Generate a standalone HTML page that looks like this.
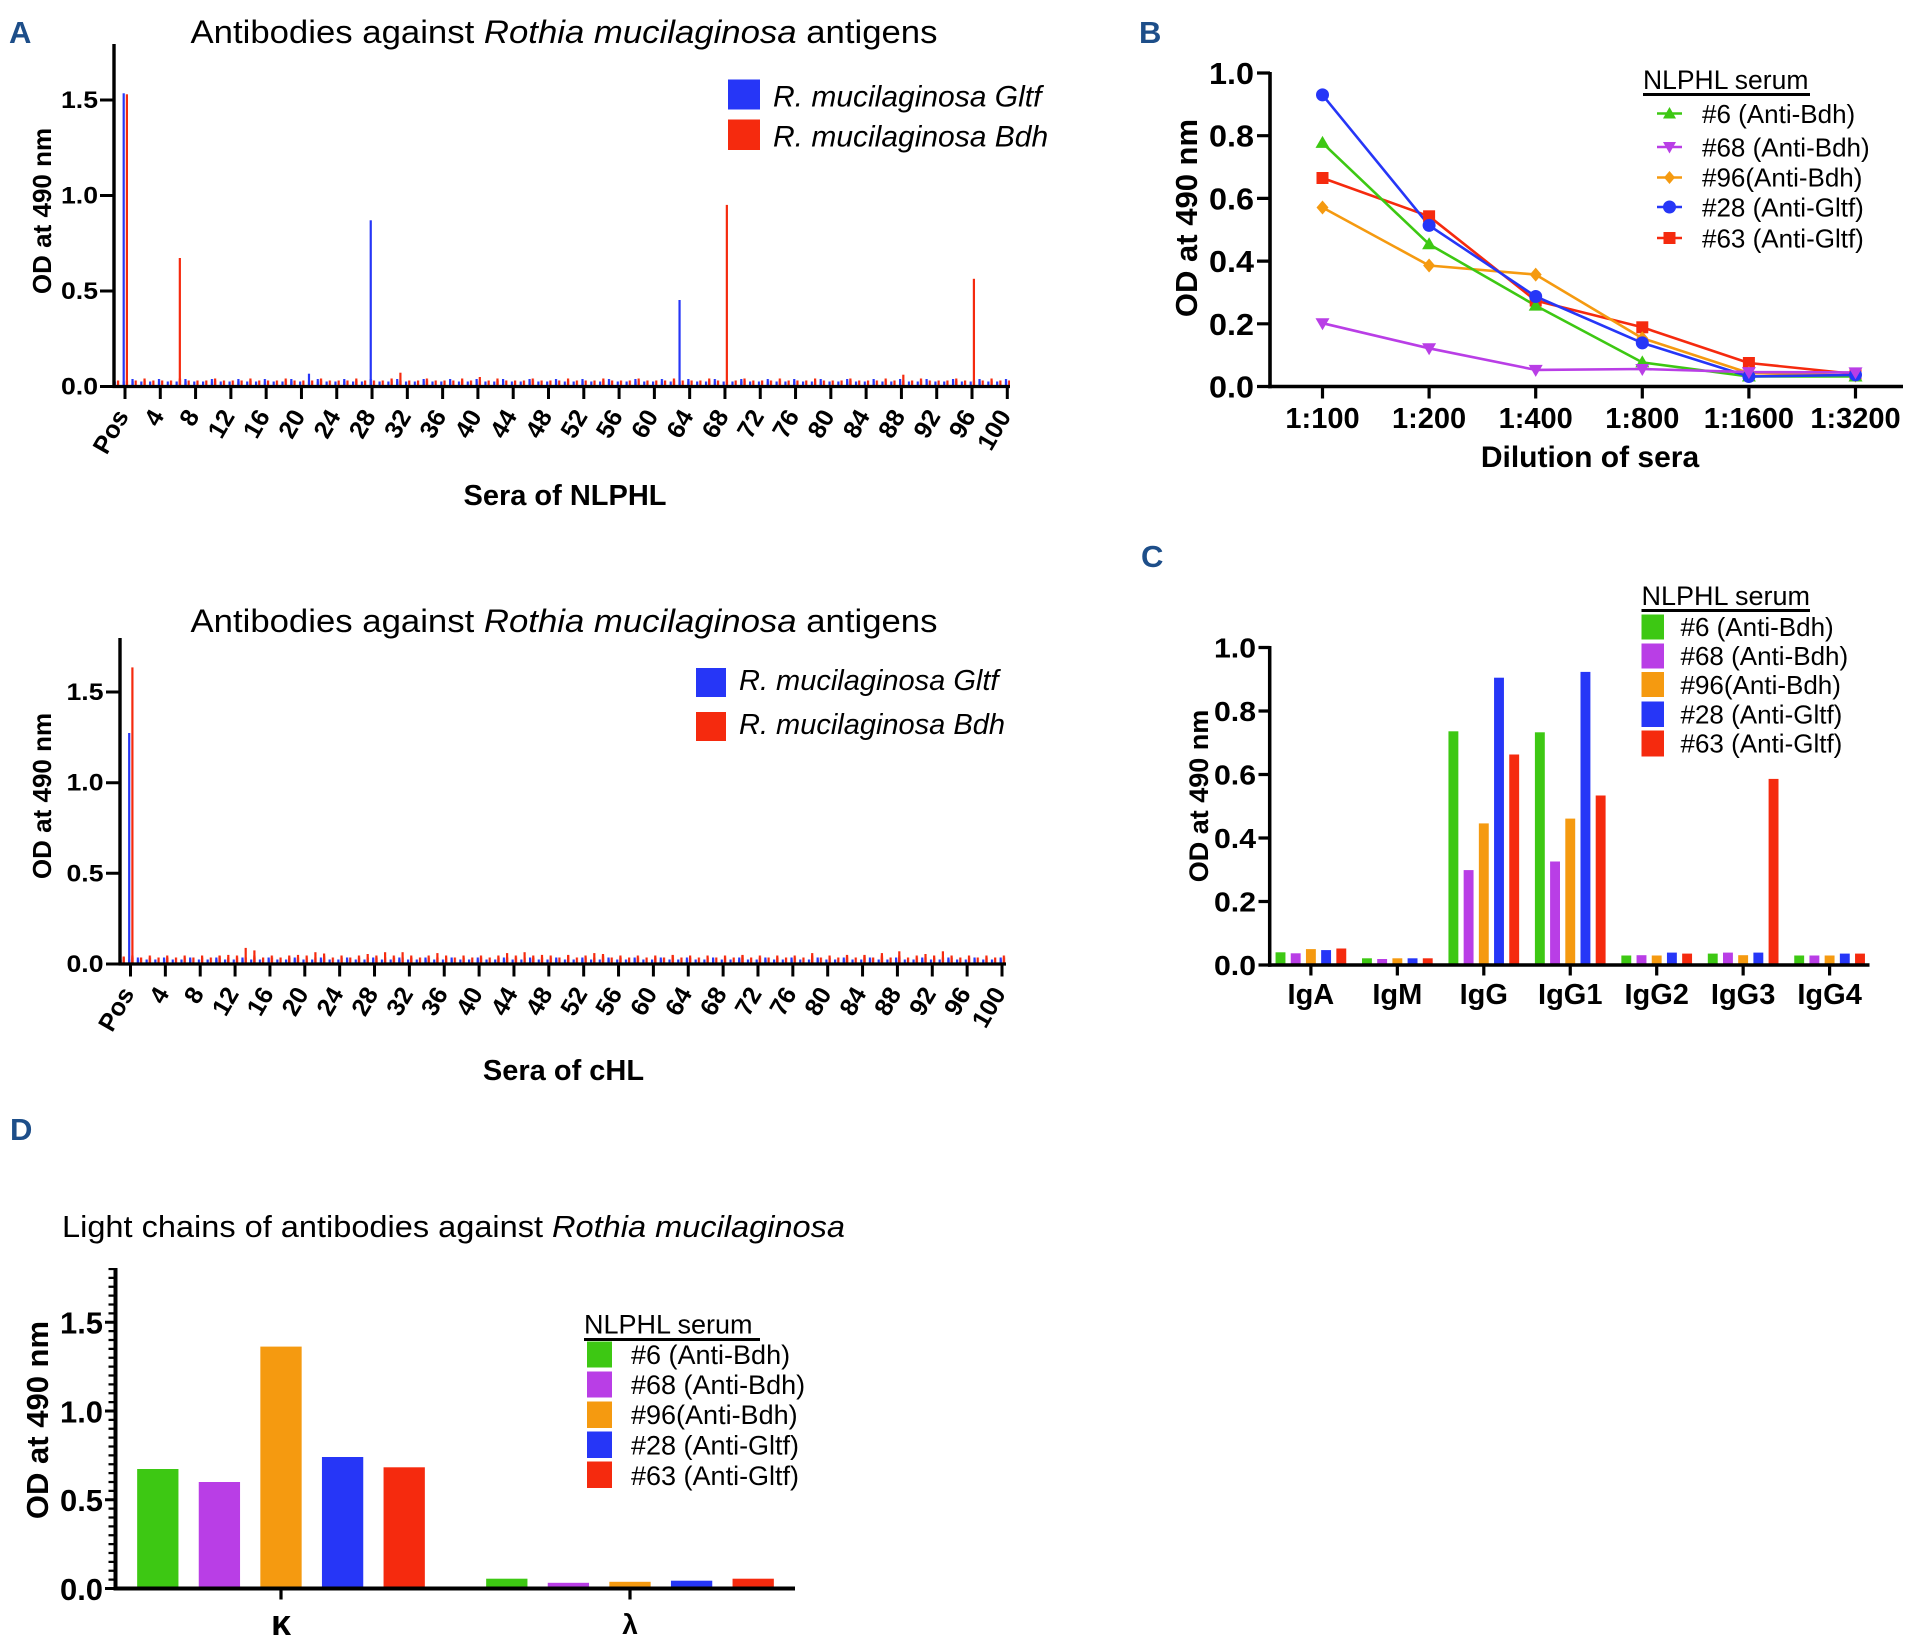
<!DOCTYPE html>
<html><head><meta charset="utf-8"><style>html,body{margin:0;padding:0;background:#fff;}svg{display:block}</style></head><body>
<svg width="1918" height="1648" viewBox="0 0 1918 1648" font-family="'Liberation Sans', Arial, sans-serif">
<defs>
<pattern id="pb1" patternUnits="userSpaceOnUse" x="122.6" y="0" width="8.823" height="1648"><rect x="0" y="0" width="2.2" height="1648" fill="#2636f7"/></pattern>
<pattern id="pr1" patternUnits="userSpaceOnUse" x="125.8" y="0" width="8.823" height="1648"><rect x="0" y="0" width="2.2" height="1648" fill="#f52a0e"/></pattern>
<pattern id="pb1b" patternUnits="userSpaceOnUse" x="131.42" y="0" width="26.469" height="1648"><rect x="0" y="0" width="2.2" height="1648" fill="#2636f7"/></pattern>
<pattern id="pr1b" patternUnits="userSpaceOnUse" x="143.45" y="0" width="35.292" height="1648"><rect x="0" y="0" width="2.2" height="1648" fill="#f52a0e"/></pattern>
<pattern id="pb2" patternUnits="userSpaceOnUse" x="128.1" y="0" width="8.715" height="1648"><rect x="0" y="0" width="2.2" height="1648" fill="#2636f7"/></pattern>
<pattern id="pr2" patternUnits="userSpaceOnUse" x="131.3" y="0" width="8.715" height="1648"><rect x="0" y="0" width="2.2" height="1648" fill="#f52a0e"/></pattern>
<pattern id="pb2b" patternUnits="userSpaceOnUse" x="136.8" y="0" width="26.145" height="1648"><rect x="0" y="0" width="2.2" height="1648" fill="#2636f7"/></pattern>
<pattern id="pr2b" patternUnits="userSpaceOnUse" x="148.7" y="0" width="17.43" height="1648"><rect x="0" y="0" width="2.2" height="1648" fill="#f52a0e"/></pattern>
</defs>

<!-- Panel letters -->
<g font-size="31" font-weight="bold" fill="#1d4e89">
<text x="9" y="43">A</text>
<text x="1139" y="43">B</text>
<text x="1141" y="567">C</text>
<text x="10" y="1140">D</text>
</g>

<!-- ================= A top ================= -->
<text x="564" y="43" text-anchor="middle" font-size="32" textLength="747" lengthAdjust="spacingAndGlyphs">Antibodies against <tspan font-style="italic">Rothia mucilaginosa</tspan> antigens</text>

<rect x="114" y="381.5" width="896" height="5" fill="url(#pb1)"/>
<rect x="114" y="379" width="896" height="7.5" fill="url(#pb1b)"/>
<rect x="114" y="380.5" width="896" height="6" fill="url(#pr1)"/>
<rect x="114" y="378.5" width="896" height="8" fill="url(#pr1b)"/>
<rect x="122.6" y="93.3" width="2.2" height="293.2" fill="#2636f7"/>
<rect x="125.8" y="94.3" width="2.2" height="292.2" fill="#f52a0e"/>
<rect x="178.74" y="258" width="2.2" height="128.5" fill="#f52a0e"/>
<rect x="369.64" y="220.3" width="2.2" height="166.2" fill="#2636f7"/>
<rect x="678.45" y="300" width="2.2" height="86.5" fill="#2636f7"/>
<rect x="725.76" y="204.9" width="2.2" height="181.6" fill="#f52a0e"/>
<rect x="972.81" y="278.8" width="2.2" height="107.7" fill="#f52a0e"/>
<rect x="399.31" y="372.7" width="2.2" height="13.8" fill="#f52a0e"/>
<rect x="902.22" y="374.7" width="2.2" height="11.8" fill="#f52a0e"/>
<rect x="307.88" y="373.7" width="2.2" height="12.8" fill="#2636f7"/>
<rect x="478.72" y="377" width="2.2" height="9.5" fill="#f52a0e"/>

<g stroke="#000" fill="none">
<line x1="114" y1="44" x2="114" y2="388" stroke-width="3.4"/>
<line x1="112.5" y1="386.5" x2="1010" y2="386.5" stroke-width="3.2"/>
<path stroke-width="3" d="M100,100H114M100,195.5H114M100,291H114M100,386.5H114"/>
<path stroke-width="3" d="M125,386.5v12.5M160.29,386.5v12.5M195.58,386.5v12.5M230.88,386.5v12.5M266.17,386.5v12.5M301.46,386.5v12.5M336.75,386.5v12.5M372.04,386.5v12.5M407.34,386.5v12.5M442.63,386.5v12.5M477.92,386.5v12.5M513.21,386.5v12.5M548.5,386.5v12.5M583.8,386.5v12.5M619.09,386.5v12.5M654.38,386.5v12.5M689.67,386.5v12.5M724.96,386.5v12.5M760.26,386.5v12.5M795.55,386.5v12.5M830.84,386.5v12.5M866.13,386.5v12.5M901.42,386.5v12.5M936.72,386.5v12.5M972.01,386.5v12.5M1007.3,386.5v12.5"/>
</g>
<g font-size="24" font-weight="bold" text-anchor="end">
<text x="98" y="108" textLength="37" lengthAdjust="spacingAndGlyphs">1.5</text>
<text x="98" y="203.5" textLength="37" lengthAdjust="spacingAndGlyphs">1.0</text>
<text x="98" y="299" textLength="37" lengthAdjust="spacingAndGlyphs">0.5</text>
<text x="98" y="394.5" textLength="37" lengthAdjust="spacingAndGlyphs">0.0</text>
</g>
<text transform="translate(51,211) rotate(-90)" text-anchor="middle" font-size="26" font-weight="bold">OD at 490 nm</text>
<g font-size="25" font-weight="bold" text-anchor="end">
<text transform="translate(129.5,416) rotate(-60)">Pos</text>
<text transform="translate(164.8,416) rotate(-60)">4</text>
<text transform="translate(200.1,416) rotate(-60)">8</text>
<text transform="translate(235.4,416) rotate(-60)">12</text>
<text transform="translate(270.7,416) rotate(-60)">16</text>
<text transform="translate(306,416) rotate(-60)">20</text>
<text transform="translate(341.3,416) rotate(-60)">24</text>
<text transform="translate(376.5,416) rotate(-60)">28</text>
<text transform="translate(411.8,416) rotate(-60)">32</text>
<text transform="translate(447.1,416) rotate(-60)">36</text>
<text transform="translate(482.4,416) rotate(-60)">40</text>
<text transform="translate(517.7,416) rotate(-60)">44</text>
<text transform="translate(553,416) rotate(-60)">48</text>
<text transform="translate(588.3,416) rotate(-60)">52</text>
<text transform="translate(623.6,416) rotate(-60)">56</text>
<text transform="translate(658.9,416) rotate(-60)">60</text>
<text transform="translate(694.2,416) rotate(-60)">64</text>
<text transform="translate(729.5,416) rotate(-60)">68</text>
<text transform="translate(764.8,416) rotate(-60)">72</text>
<text transform="translate(800,416) rotate(-60)">76</text>
<text transform="translate(835.3,416) rotate(-60)">80</text>
<text transform="translate(870.6,416) rotate(-60)">84</text>
<text transform="translate(905.9,416) rotate(-60)">88</text>
<text transform="translate(941.2,416) rotate(-60)">92</text>
<text transform="translate(976.5,416) rotate(-60)">96</text>
<text transform="translate(1011.8,416) rotate(-60)">100</text>
</g>
<text x="565" y="505" text-anchor="middle" font-size="29" font-weight="bold">Sera of NLPHL</text>
<rect x="728" y="79.5" width="32" height="30" fill="#2636f7"/>
<rect x="728" y="119.5" width="32" height="30.5" fill="#f52a0e"/>
<g font-size="30" font-style="italic">
<text x="773" y="106.7">R. mucilaginosa Gltf</text>
<text x="773" y="146.7">R. mucilaginosa Bdh</text>
</g>

<!-- ================= A bottom (cHL) ================= -->
<text x="564" y="632" text-anchor="middle" font-size="32" textLength="747" lengthAdjust="spacingAndGlyphs">Antibodies against <tspan font-style="italic">Rothia mucilaginosa</tspan> antigens</text>
<rect x="121" y="959.5" width="885" height="4.5" fill="url(#pb2)"/>
<rect x="121" y="957.5" width="885" height="6.5" fill="url(#pb2b)"/>
<rect x="121" y="957.5" width="885" height="6.5" fill="url(#pr2)"/>
<rect x="121" y="955.5" width="885" height="8.5" fill="url(#pr2b)"/>
<rect x="128.1" y="733" width="2.2" height="231" fill="#2636f7"/>
<rect x="131.3" y="667.4" width="2.2" height="296.6" fill="#f52a0e"/>
<g fill="#f52a0e">
<rect x="244.6" y="947.9" width="2.2" height="16.1"/>
<rect x="253.3" y="950.4" width="2.2" height="13.6"/>
<rect x="314.3" y="952.2" width="2.2" height="11.8"/>
<rect x="323" y="953.5" width="2.2" height="10.5"/>
<rect x="366.6" y="954" width="2.2" height="10"/>
<rect x="384" y="952.2" width="2.2" height="11.8"/>
<rect x="401.5" y="952.2" width="2.2" height="11.8"/>
<rect x="436.3" y="953.1" width="2.2" height="10.9"/>
<rect x="506" y="953.1" width="2.2" height="10.9"/>
<rect x="523.5" y="952.2" width="2.2" height="11.8"/>
<rect x="540.9" y="954.9" width="2.2" height="9.1"/>
<rect x="593.2" y="953.1" width="2.2" height="10.9"/>
<rect x="601.9" y="954" width="2.2" height="10"/>
<rect x="671.6" y="954.9" width="2.2" height="9.1"/>
<rect x="741.4" y="954.9" width="2.2" height="9.1"/>
<rect x="811.1" y="953.1" width="2.2" height="10.9"/>
<rect x="880.8" y="953.1" width="2.2" height="10.9"/>
<rect x="898.2" y="951.3" width="2.2" height="12.7"/>
<rect x="924.4" y="954" width="2.2" height="10"/>
<rect x="941.8" y="951.3" width="2.2" height="12.7"/>
<rect x="227.2" y="954.9" width="2.2" height="9.1"/>
<rect x="218.5" y="955.8" width="2.2" height="8.2"/>
<rect x="296.9" y="954.9" width="2.2" height="9.1"/>
<rect x="567.1" y="954.9" width="2.2" height="9.1"/>
<rect x="845.9" y="954.9" width="2.2" height="9.1"/>
<rect x="863.4" y="954.9" width="2.2" height="9.1"/>
<rect x="122.6" y="956.5" width="2.2" height="7.5"/>
</g>
<g stroke="#000" fill="none">
<line x1="120" y1="638" x2="120" y2="965.5" stroke-width="3.4"/>
<line x1="118.5" y1="964" x2="1006" y2="964" stroke-width="3.2"/>
<path stroke-width="3" d="M106,692H120M106,782.7H120M106,873.3H120M106,964H120"/>
<path stroke-width="3" d="M130.5,964v12.5M165.36,964v12.5M200.22,964v12.5M235.08,964v12.5M269.94,964v12.5M304.8,964v12.5M339.66,964v12.5M374.52,964v12.5M409.38,964v12.5M444.24,964v12.5M479.1,964v12.5M513.96,964v12.5M548.82,964v12.5M583.68,964v12.5M618.54,964v12.5M653.4,964v12.5M688.26,964v12.5M723.12,964v12.5M757.98,964v12.5M792.84,964v12.5M827.7,964v12.5M862.56,964v12.5M897.42,964v12.5M932.28,964v12.5M967.14,964v12.5M1002,964v12.5"/>
</g>
<g font-size="24" font-weight="bold" text-anchor="end">
<text x="103.5" y="700" textLength="37" lengthAdjust="spacingAndGlyphs">1.5</text>
<text x="103.5" y="790.7" textLength="37" lengthAdjust="spacingAndGlyphs">1.0</text>
<text x="103.5" y="881.3" textLength="37" lengthAdjust="spacingAndGlyphs">0.5</text>
<text x="103.5" y="972" textLength="37" lengthAdjust="spacingAndGlyphs">0.0</text>
</g>
<text transform="translate(51,796) rotate(-90)" text-anchor="middle" font-size="26" font-weight="bold">OD at 490 nm</text>
<g font-size="25" font-weight="bold" text-anchor="end">
<text transform="translate(135,993.5) rotate(-60)">Pos</text>
<text transform="translate(169.9,993.5) rotate(-60)">4</text>
<text transform="translate(204.7,993.5) rotate(-60)">8</text>
<text transform="translate(239.6,993.5) rotate(-60)">12</text>
<text transform="translate(274.4,993.5) rotate(-60)">16</text>
<text transform="translate(309.3,993.5) rotate(-60)">20</text>
<text transform="translate(344.2,993.5) rotate(-60)">24</text>
<text transform="translate(379,993.5) rotate(-60)">28</text>
<text transform="translate(413.9,993.5) rotate(-60)">32</text>
<text transform="translate(448.7,993.5) rotate(-60)">36</text>
<text transform="translate(483.6,993.5) rotate(-60)">40</text>
<text transform="translate(518.5,993.5) rotate(-60)">44</text>
<text transform="translate(553.3,993.5) rotate(-60)">48</text>
<text transform="translate(588.2,993.5) rotate(-60)">52</text>
<text transform="translate(623,993.5) rotate(-60)">56</text>
<text transform="translate(657.9,993.5) rotate(-60)">60</text>
<text transform="translate(692.8,993.5) rotate(-60)">64</text>
<text transform="translate(727.6,993.5) rotate(-60)">68</text>
<text transform="translate(762.5,993.5) rotate(-60)">72</text>
<text transform="translate(797.3,993.5) rotate(-60)">76</text>
<text transform="translate(832.2,993.5) rotate(-60)">80</text>
<text transform="translate(867.1,993.5) rotate(-60)">84</text>
<text transform="translate(901.9,993.5) rotate(-60)">88</text>
<text transform="translate(936.8,993.5) rotate(-60)">92</text>
<text transform="translate(971.6,993.5) rotate(-60)">96</text>
<text transform="translate(1006.5,993.5) rotate(-60)">100</text>
</g>
<text x="563.5" y="1080" text-anchor="middle" font-size="29" font-weight="bold">Sera of cHL</text>
<rect x="696" y="668" width="30" height="29" fill="#2636f7"/>
<rect x="696" y="712" width="30" height="29" fill="#f52a0e"/>
<g font-size="29" font-style="italic">
<text x="739" y="690">R. mucilaginosa Gltf</text>
<text x="739" y="734">R. mucilaginosa Bdh</text>
</g>

<!-- ================= B ================= -->
<g fill="none" stroke-width="2.6" stroke-linejoin="round">
<polyline stroke="#f52a0e" points="1322.5,178 1429.1,216.3 1535.7,300.6 1642.3,327.3 1748.9,363 1855.5,374"/>
<polyline stroke="#f59a10" points="1322.5,207.5 1429.1,265.5 1535.7,274.6 1642.3,338.2 1748.9,373 1855.5,375.5"/>
<polyline stroke="#3dc813" points="1322.5,142.9 1429.1,244.2 1535.7,305.6 1642.3,362.4 1748.9,376.5 1855.5,376.5"/>
<polyline stroke="#2636f7" points="1322.5,94.9 1429.1,225.4 1535.7,296.5 1642.3,342.9 1748.9,376.5 1855.5,374.9"/>
<polyline stroke="#b93ee6" points="1322.5,323.2 1429.1,348.3 1535.7,369.9 1642.3,369 1748.9,372.1 1855.5,372.4"/>
</g>
<g fill="#f52a0e">
<rect x="1316.5" y="172" width="12" height="12"/><rect x="1423.1" y="210.3" width="12" height="12"/><rect x="1529.7" y="294.6" width="12" height="12"/><rect x="1636.3" y="321.3" width="12" height="12"/><rect x="1742.9" y="357" width="12" height="12"/><rect x="1849.5" y="368" width="12" height="12"/>
</g>
<g fill="#f59a10">
<polygon points="1322.5,200.5 1328.5,207.5 1322.5,214.5 1316.5,207.5"/><polygon points="1429.1,258.5 1435.1,265.5 1429.1,272.5 1423.1,265.5"/><polygon points="1535.7,267.6 1541.7,274.6 1535.7,281.6 1529.7,274.6"/><polygon points="1642.3,331.2 1648.3,338.2 1642.3,345.2 1636.3,338.2"/><polygon points="1748.9,366 1754.9,373 1748.9,380 1742.9,373"/><polygon points="1855.5,368.5 1861.5,375.5 1855.5,382.5 1849.5,375.5"/>
</g>
<g fill="#3dc813">
<polygon points="1322.5,135.9 1329.5,147.9 1315.5,147.9"/><polygon points="1429.1,237.2 1436.1,249.2 1422.1,249.2"/><polygon points="1535.7,298.6 1542.7,310.6 1528.7,310.6"/><polygon points="1642.3,355.4 1649.3,367.4 1635.3,367.4"/><polygon points="1748.9,369.5 1755.9,381.5 1741.9,381.5"/><polygon points="1855.5,369.5 1862.5,381.5 1848.5,381.5"/>
</g>
<g fill="#2636f7">
<circle cx="1322.5" cy="94.9" r="6.5"/><circle cx="1429.1" cy="225.4" r="6.5"/><circle cx="1535.7" cy="296.5" r="6.5"/><circle cx="1642.3" cy="342.9" r="6.5"/><circle cx="1748.9" cy="376.5" r="6.5"/><circle cx="1855.5" cy="374.9" r="6.5"/>
</g>
<g fill="#b93ee6">
<polygon points="1322.5,330.2 1329.5,318.2 1315.5,318.2"/><polygon points="1429.1,355.3 1436.1,343.3 1422.1,343.3"/><polygon points="1535.7,376.9 1542.7,364.9 1528.7,364.9"/><polygon points="1642.3,376 1649.3,364 1635.3,364"/><polygon points="1748.9,379.1 1755.9,367.1 1741.9,367.1"/><polygon points="1855.5,379.4 1862.5,367.4 1848.5,367.4"/>
</g>
<g stroke="#000" fill="none">
<line x1="1270" y1="72" x2="1270" y2="388.3" stroke-width="3.6"/>
<line x1="1268.2" y1="386.5" x2="1903" y2="386.5" stroke-width="3.6"/>
<path stroke-width="3.2" d="M1257,73H1270M1257,135.7H1270M1257,198.4H1270M1257,261.1H1270M1257,323.8H1270M1257,386.5H1270"/>
<path stroke-width="3.2" d="M1322.5,386.5v12M1429.1,386.5v12M1535.7,386.5v12M1642.3,386.5v12M1748.9,386.5v12M1855.5,386.5v12"/>
</g>
<g font-size="31" font-weight="bold" text-anchor="end">
<text x="1254" y="84" textLength="45" lengthAdjust="spacingAndGlyphs">1.0</text>
<text x="1254" y="146.7" textLength="45" lengthAdjust="spacingAndGlyphs">0.8</text>
<text x="1254" y="209.4" textLength="45" lengthAdjust="spacingAndGlyphs">0.6</text>
<text x="1254" y="272.1" textLength="45" lengthAdjust="spacingAndGlyphs">0.4</text>
<text x="1254" y="334.8" textLength="45" lengthAdjust="spacingAndGlyphs">0.2</text>
<text x="1254" y="397.5" textLength="45" lengthAdjust="spacingAndGlyphs">0.0</text>
</g>
<g font-size="29" font-weight="bold" text-anchor="middle">
<text x="1322.5" y="428">1:100</text>
<text x="1429.1" y="428">1:200</text>
<text x="1535.7" y="428">1:400</text>
<text x="1642.3" y="428">1:800</text>
<text x="1748.9" y="428">1:1600</text>
<text x="1855.5" y="428">1:3200</text>
</g>
<text x="1590" y="467" text-anchor="middle" font-size="30" font-weight="bold">Dilution of sera</text>
<text transform="translate(1197,218) rotate(-90)" text-anchor="middle" font-size="31" font-weight="bold">OD at 490 nm</text>
<text x="1643" y="89" font-size="26.5">NLPHL serum</text>
<line x1="1643" y1="94.5" x2="1810" y2="94.5" stroke="#000" stroke-width="3"/>
<g stroke-width="2.6">
<line x1="1657" y1="113.5" x2="1682" y2="113.5" stroke="#3dc813"/>
<line x1="1657" y1="147" x2="1682" y2="147" stroke="#b93ee6"/>
<line x1="1657" y1="177.5" x2="1682" y2="177.5" stroke="#f59a10"/>
<line x1="1657" y1="207" x2="1682" y2="207" stroke="#2636f7"/>
<line x1="1657" y1="238" x2="1682" y2="238" stroke="#f52a0e"/>
</g>
<polygon points="1669.5,107 1676,118.5 1663,118.5" fill="#3dc813"/>
<polygon points="1669.5,153.5 1676,142 1663,142" fill="#b93ee6"/>
<polygon points="1669.5,171 1675,177.5 1669.5,184 1664,177.5" fill="#f59a10"/>
<circle cx="1669.5" cy="207" r="6.5" fill="#2636f7"/>
<rect x="1663.5" y="232" width="12" height="12" fill="#f52a0e"/>
<g font-size="26">
<text x="1702" y="123">#6 (Anti-Bdh)</text>
<text x="1702" y="156.5">#68 (Anti-Bdh)</text>
<text x="1702" y="186.7">#96(Anti-Bdh)</text>
<text x="1702" y="216.5">#28 (Anti-Gltf)</text>
<text x="1702" y="247.3">#63 (Anti-Gltf)</text>
</g>

<!-- ================= C ================= -->
<g>
<rect x="1275.55" y="952.3" width="9.9" height="12.7" fill="#3dc813"/>
<rect x="1290.75" y="953.3" width="9.9" height="11.7" fill="#b93ee6"/>
<rect x="1305.95" y="949.1" width="9.9" height="15.9" fill="#f59a10"/>
<rect x="1321.15" y="950.1" width="9.9" height="14.9" fill="#2636f7"/>
<rect x="1336.35" y="948.5" width="9.9" height="16.5" fill="#f52a0e"/>
<rect x="1362" y="958.3" width="9.9" height="6.7" fill="#3dc813"/>
<rect x="1377.2" y="959" width="9.9" height="6" fill="#b93ee6"/>
<rect x="1392.4" y="958.3" width="9.9" height="6.7" fill="#f59a10"/>
<rect x="1407.6" y="958.3" width="9.9" height="6.7" fill="#2636f7"/>
<rect x="1422.8" y="958.3" width="9.9" height="6.7" fill="#f52a0e"/>
<rect x="1448.45" y="731.3" width="9.9" height="233.7" fill="#3dc813"/>
<rect x="1463.65" y="870.1" width="9.9" height="94.9" fill="#b93ee6"/>
<rect x="1478.85" y="823.4" width="9.9" height="141.6" fill="#f59a10"/>
<rect x="1494.05" y="677.7" width="9.9" height="287.3" fill="#2636f7"/>
<rect x="1509.25" y="754.5" width="9.9" height="210.5" fill="#f52a0e"/>
<rect x="1534.9" y="732.3" width="9.9" height="232.7" fill="#3dc813"/>
<rect x="1550.1" y="861.5" width="9.9" height="103.5" fill="#b93ee6"/>
<rect x="1565.3" y="818.6" width="9.9" height="146.4" fill="#f59a10"/>
<rect x="1580.5" y="671.9" width="9.9" height="293.1" fill="#2636f7"/>
<rect x="1595.7" y="795.5" width="9.9" height="169.5" fill="#f52a0e"/>
<rect x="1621.35" y="955.5" width="9.9" height="9.5" fill="#3dc813"/>
<rect x="1636.55" y="955.2" width="9.9" height="9.8" fill="#b93ee6"/>
<rect x="1651.75" y="955.5" width="9.9" height="9.5" fill="#f59a10"/>
<rect x="1666.95" y="952.6" width="9.9" height="12.4" fill="#2636f7"/>
<rect x="1682.15" y="953.6" width="9.9" height="11.4" fill="#f52a0e"/>
<rect x="1707.8" y="953.6" width="9.9" height="11.4" fill="#3dc813"/>
<rect x="1723" y="952.6" width="9.9" height="12.4" fill="#b93ee6"/>
<rect x="1738.2" y="955.2" width="9.9" height="9.8" fill="#f59a10"/>
<rect x="1753.4" y="952.6" width="9.9" height="12.4" fill="#2636f7"/>
<rect x="1768.6" y="778.9" width="9.9" height="186.1" fill="#f52a0e"/>
<rect x="1794.25" y="955.5" width="9.9" height="9.5" fill="#3dc813"/>
<rect x="1809.45" y="955.5" width="9.9" height="9.5" fill="#b93ee6"/>
<rect x="1824.65" y="955.5" width="9.9" height="9.5" fill="#f59a10"/>
<rect x="1839.85" y="953.6" width="9.9" height="11.4" fill="#2636f7"/>
<rect x="1855.05" y="953.6" width="9.9" height="11.4" fill="#f52a0e"/>
</g>
<g stroke="#000" fill="none">
<line x1="1269.7" y1="646" x2="1269.7" y2="966.7" stroke-width="3.5"/>
<line x1="1268" y1="965" x2="1869.5" y2="965" stroke-width="3.5"/>
<path stroke-width="3.2" d="M1258.5,647.5H1269.7M1258.5,711H1269.7M1258.5,774.5H1269.7M1258.5,838H1269.7M1258.5,901.5H1269.7M1258.5,965H1269.7"/>
<path stroke-width="3.2" d="M1310.9,965v10.5M1397.35,965v10.5M1483.8,965v10.5M1570.25,965v10.5M1656.7,965v10.5M1743.15,965v10.5M1829.6,965v10.5"/>
</g>
<g font-size="28" font-weight="bold" text-anchor="end">
<text x="1256" y="657.5" textLength="42" lengthAdjust="spacingAndGlyphs">1.0</text>
<text x="1256" y="721" textLength="42" lengthAdjust="spacingAndGlyphs">0.8</text>
<text x="1256" y="784.5" textLength="42" lengthAdjust="spacingAndGlyphs">0.6</text>
<text x="1256" y="848" textLength="42" lengthAdjust="spacingAndGlyphs">0.4</text>
<text x="1256" y="911.5" textLength="42" lengthAdjust="spacingAndGlyphs">0.2</text>
<text x="1256" y="975" textLength="42" lengthAdjust="spacingAndGlyphs">0.0</text>
</g>
<g font-size="29" font-weight="bold" text-anchor="middle">
<text x="1310.9" y="1004">IgA</text>
<text x="1397.35" y="1004">IgM</text>
<text x="1483.8" y="1004">IgG</text>
<text x="1570.25" y="1004">IgG1</text>
<text x="1656.7" y="1004">IgG2</text>
<text x="1743.15" y="1004">IgG3</text>
<text x="1829.6" y="1004">IgG4</text>
</g>
<text transform="translate(1208,796) rotate(-90)" text-anchor="middle" font-size="27" font-weight="bold">OD at 490 nm</text>
<text x="1641.5" y="605" font-size="27">NLPHL serum</text>
<line x1="1641.5" y1="610.5" x2="1810" y2="610.5" stroke="#000" stroke-width="3"/>
<rect x="1641.5" y="614.5" width="22.5" height="25" fill="#3dc813"/>
<rect x="1641.5" y="643.5" width="22.5" height="25" fill="#b93ee6"/>
<rect x="1641.5" y="672" width="22.5" height="25" fill="#f59a10"/>
<rect x="1641.5" y="701.5" width="22.5" height="25.5" fill="#2636f7"/>
<rect x="1641.5" y="730.5" width="22.5" height="26" fill="#f52a0e"/>
<g font-size="26">
<text x="1680.5" y="636">#6 (Anti-Bdh)</text>
<text x="1680.5" y="665">#68 (Anti-Bdh)</text>
<text x="1680.5" y="694">#96(Anti-Bdh)</text>
<text x="1680.5" y="723.5">#28 (Anti-Gltf)</text>
<text x="1680.5" y="752.5">#63 (Anti-Gltf)</text>
</g>

<!-- ================= D ================= -->
<text x="62" y="1237" font-size="31" textLength="783" lengthAdjust="spacingAndGlyphs">Light chains of antibodies against <tspan font-style="italic">Rothia mucilaginosa</tspan></text>
<rect x="137.15" y="1469" width="41.3" height="119.5" fill="#3dc813"/>
<rect x="198.75" y="1482" width="41.3" height="106.5" fill="#b93ee6"/>
<rect x="260.35" y="1346.6" width="41.3" height="241.9" fill="#f59a10"/>
<rect x="321.95" y="1457" width="41.3" height="131.5" fill="#2636f7"/>
<rect x="383.55" y="1467.3" width="41.3" height="121.2" fill="#f52a0e"/>
<rect x="486.15" y="1578.7" width="41.3" height="9.8" fill="#3dc813"/>
<rect x="547.75" y="1582.8" width="41.3" height="5.7" fill="#b93ee6"/>
<rect x="609.35" y="1581.8" width="41.3" height="6.7" fill="#f59a10"/>
<rect x="670.95" y="1580.7" width="41.3" height="7.8" fill="#2636f7"/>
<rect x="732.55" y="1578.7" width="41.3" height="9.8" fill="#f52a0e"/>
<g stroke="#000" fill="none">
<line x1="112" y1="1589.6" x2="112" y2="1268" stroke-width="7" stroke-dasharray="2.2 6.675"/>
<line x1="115.5" y1="1268" x2="115.5" y2="1590.5" stroke-width="4"/>
<line x1="113.5" y1="1588.5" x2="795" y2="1588.5" stroke-width="4"/>
<path stroke-width="3" d="M105,1322.25H115.5M105,1411H115.5M105,1499.75H115.5M105,1588.5H115.5"/>
<path stroke-width="3.2" d="M281,1588.5v11M630,1588.5v11"/>
</g>
<g font-size="31" font-weight="bold" text-anchor="end">
<text x="103" y="1333.5" textLength="43" lengthAdjust="spacingAndGlyphs">1.5</text>
<text x="103" y="1422.3" textLength="43" lengthAdjust="spacingAndGlyphs">1.0</text>
<text x="103" y="1511" textLength="43" lengthAdjust="spacingAndGlyphs">0.5</text>
<text x="103" y="1599.8" textLength="43" lengthAdjust="spacingAndGlyphs">0.0</text>
</g>
<text transform="translate(48,1420) rotate(-90)" text-anchor="middle" font-size="31" font-weight="bold">OD at 490 nm</text>
<text x="281" y="1635" text-anchor="middle" font-size="36" font-weight="bold">κ</text>
<text x="630" y="1634" text-anchor="middle" font-size="28" font-weight="bold">λ</text>
<text x="584" y="1333.5" font-size="27">NLPHL serum</text>
<line x1="584" y1="1339.5" x2="760" y2="1339.5" stroke="#000" stroke-width="3"/>
<rect x="587" y="1341.5" width="25" height="26" fill="#3dc813"/>
<rect x="587" y="1371.5" width="25" height="26" fill="#b93ee6"/>
<rect x="587" y="1401.5" width="25" height="26.5" fill="#f59a10"/>
<rect x="587" y="1431.5" width="25" height="26.5" fill="#2636f7"/>
<rect x="587" y="1461.5" width="25" height="26.5" fill="#f52a0e"/>
<g font-size="27">
<text x="631" y="1364">#6 (Anti-Bdh)</text>
<text x="631" y="1394">#68 (Anti-Bdh)</text>
<text x="631" y="1424">#96(Anti-Bdh)</text>
<text x="631" y="1454.5">#28 (Anti-Gltf)</text>
<text x="631" y="1485">#63 (Anti-Gltf)</text>
</g>
</svg>
</body></html>
